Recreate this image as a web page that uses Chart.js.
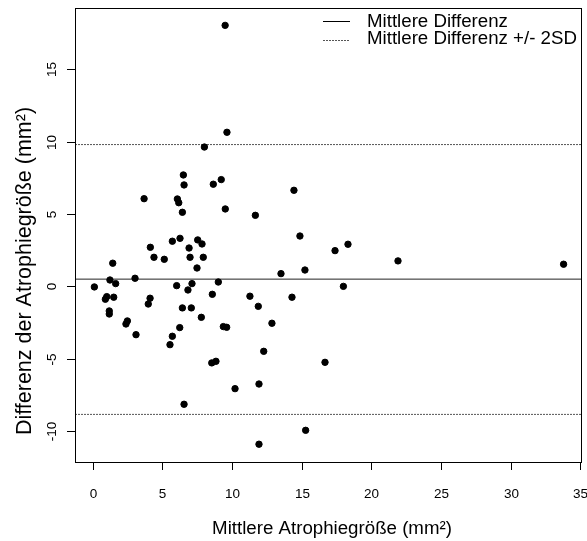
<!DOCTYPE html>
<html>
<head>
<meta charset="utf-8">
<script src="https://cdn.jsdelivr.net/npm/chart.js@4"></script>
<style>
  html, body { margin: 0; padding: 0; background: #fff; }
  #wrap { width: 587px; height: 541px; }
</style>
</head>
<body>
<div id="wrap"><canvas id="baChart" width="587" height="541"></canvas></div>
<script>
// Mittelwert der beiden Messungen (x) und Differenz (y)
const meanSize = [
    9.50, 9.63, 8.01, 6.50, 6.55, 8.65, 9.22, 14.44, 3.68, 6.07,
    6.17, 9.51, 6.43, 11.67, 14.87, 5.71, 6.26, 7.53, 7.84, 4.13,
    6.91, 4.39, 5.13, 6.98, 7.93, 1.43, 7.48, 15.23, 13.51, 3.03,
    1.23, 1.64, 0.11, 6.02, 7.12, 6.83, 9.01, 1.00, 0.90, 1.50,
    4.11, 3.98, 8.58, 11.28, 14.30, 6.43, 7.07, 1.18, 1.18, 11.88,
    7.79, 2.48, 2.38, 12.86, 6.24, 9.37, 9.61, 3.10, 5.71, 5.54,
    12.27, 8.54, 8.84, 16.67, 10.21, 11.93, 6.55, 15.28, 11.93, 17.39,
    18.32, 21.91, 33.80, 17.99
];
const difference = [
    18.04, 10.65, 9.63, 7.70, 7.01, 7.06, 7.38, 6.64, 6.06, 6.04,
    5.78, 5.35, 5.12, 4.91, 3.48, 3.12, 3.32, 3.21, 2.93, 2.70,
    2.65, 2.01, 1.87, 2.01, 2.01, 1.60, 1.27, 1.13, 0.88, 0.56,
    0.44, 0.19, -0.04, 0.05, 0.19, -0.25, 0.30, -0.71, -0.89, -0.75,
    -0.82, -1.22, -0.55, -0.68, -0.75, -1.49, -1.49, -1.70, -1.91, -1.38,
    -2.14, -2.39, -2.60, -2.55, -2.85, -2.78, -2.83, -3.34, -3.45, -4.03,
    -4.49, -5.29, -5.18, -5.25, -7.07, -6.75, -8.15, -9.95, -10.91, 2.47,
    2.91, 1.76, 1.53, 0.00
];

const meanDiff = 0.5;
const upperLimit = 9.8;
const lowerLimit = -8.85;

const xTicks = [0, 5, 10, 15, 20, 25, 30, 35];
const yTicks = [-10, -5, 0, 5, 10, 15];

const xMin = -1.28, xMax = 35.05;
const yMin = -12.14, yMax = 19.24;

const legendLabels = ['Mittlere Differenz', 'Mittlere Differenz +/- 2SD'];

const FONT = '"Liberation Sans", Arial, sans-serif';

function hLine(v) {
    return [{ x: xMin, y: v }, { x: xMax, y: v }];
}

// R-artige Achsen, Box und Legende
const baseGraphics = {
    id: 'baseGraphics',
    afterDraw(chart) {
        const ctx = chart.ctx;
        const area = chart.chartArea;
        const xs = chart.scales.x;
        const ys = chart.scales.y;
        ctx.save();
        ctx.strokeStyle = '#000';
        ctx.fillStyle = '#000';
        ctx.lineWidth = 1;

        // box
        ctx.strokeRect(area.left + 0.5, area.top + 0.5, area.right - area.left, area.bottom - area.top);

        // x ticks
        ctx.font = '13.5px ' + FONT;
        ctx.textAlign = 'center';
        ctx.textBaseline = 'middle';
        xTicks.forEach(t => {
            const px = Math.round(xs.getPixelForValue(t)) + 0.5;
            ctx.beginPath();
            ctx.moveTo(px, area.bottom);
            ctx.lineTo(px, area.bottom + 8);
            ctx.stroke();
            ctx.fillText(String(t), px, 494);
        });

        // y ticks (labels rotated)
        yTicks.forEach(t => {
            const py = Math.round(ys.getPixelForValue(t)) + 0.5;
            ctx.beginPath();
            ctx.moveTo(area.left - 8, py);
            ctx.lineTo(area.left, py);
            ctx.stroke();
            ctx.save();
            ctx.translate(52, py);
            ctx.rotate(-Math.PI / 2);
            ctx.fillText(String(t), 0, 0);
            ctx.restore();
        });

        // axis titles
        ctx.font = '18.7px ' + FONT;
        ctx.fillText('Mittlere Atrophiegröße (mm²)', 332, 529);
        ctx.save();
        ctx.translate(25, 271);
        ctx.rotate(-Math.PI / 2);
        ctx.font = '21.5px ' + FONT;
        ctx.fillText('Differenz der Atrophiegröße (mm²)', 0, 0);
        ctx.restore();

        // legend
        ctx.textAlign = 'left';
        ctx.font = '18.7px ' + FONT;
        ctx.beginPath();
        ctx.moveTo(323, 21.5);
        ctx.lineTo(350, 21.5);
        ctx.stroke();
        ctx.fillText(legendLabels[0], 367, 22);
        ctx.strokeStyle = '#555';
        ctx.setLineDash([2, 1]);
        ctx.beginPath();
        ctx.moveTo(323, 40.5);
        ctx.lineTo(350, 40.5);
        ctx.stroke();
        ctx.setLineDash([]);
        ctx.fillText(legendLabels[1], 367, 39);
        ctx.restore();
    }
};

const config = {
    type: 'scatter',
    data: {
        datasets: [
            {
                label: 'Messungen',
                data: meanSize.map((x, i) => ({ x: x, y: difference[i] })),
                backgroundColor: '#000',
                borderColor: '#000',
                pointRadius: 3.2,
                pointHoverRadius: 3.2,
                order: 1
            },
            {
                type: 'line',
                label: legendLabels[0],
                data: hLine(meanDiff),
                borderColor: '#222',
                borderWidth: 1,
                pointRadius: 0,
                order: 2
            },
            {
                type: 'line',
                label: 'Obere Grenze',
                data: hLine(upperLimit),
                borderColor: '#555',
                borderWidth: 1,
                borderDash: [2, 1],
                pointRadius: 0,
                order: 2
            },
            {
                type: 'line',
                label: 'Untere Grenze',
                data: hLine(lowerLimit),
                borderColor: '#555',
                borderWidth: 1,
                borderDash: [2, 1],
                pointRadius: 0,
                order: 2
            }
        ]
    },
    options: {
        responsive: false,
        animation: false,
        events: [],
        layout: {
            padding: { left: 75, top: 8, right: 6, bottom: 79 }
        },
        scales: {
            x: { type: 'linear', min: xMin, max: xMax, display: false },
            y: { type: 'linear', min: yMin, max: yMax, display: false }
        },
        plugins: {
            legend: { display: false },
            tooltip: { enabled: false },
            title: { display: false }
        }
    },
    plugins: [baseGraphics]
};

new Chart(document.getElementById('baChart'), config);
</script>
</body>
</html>
